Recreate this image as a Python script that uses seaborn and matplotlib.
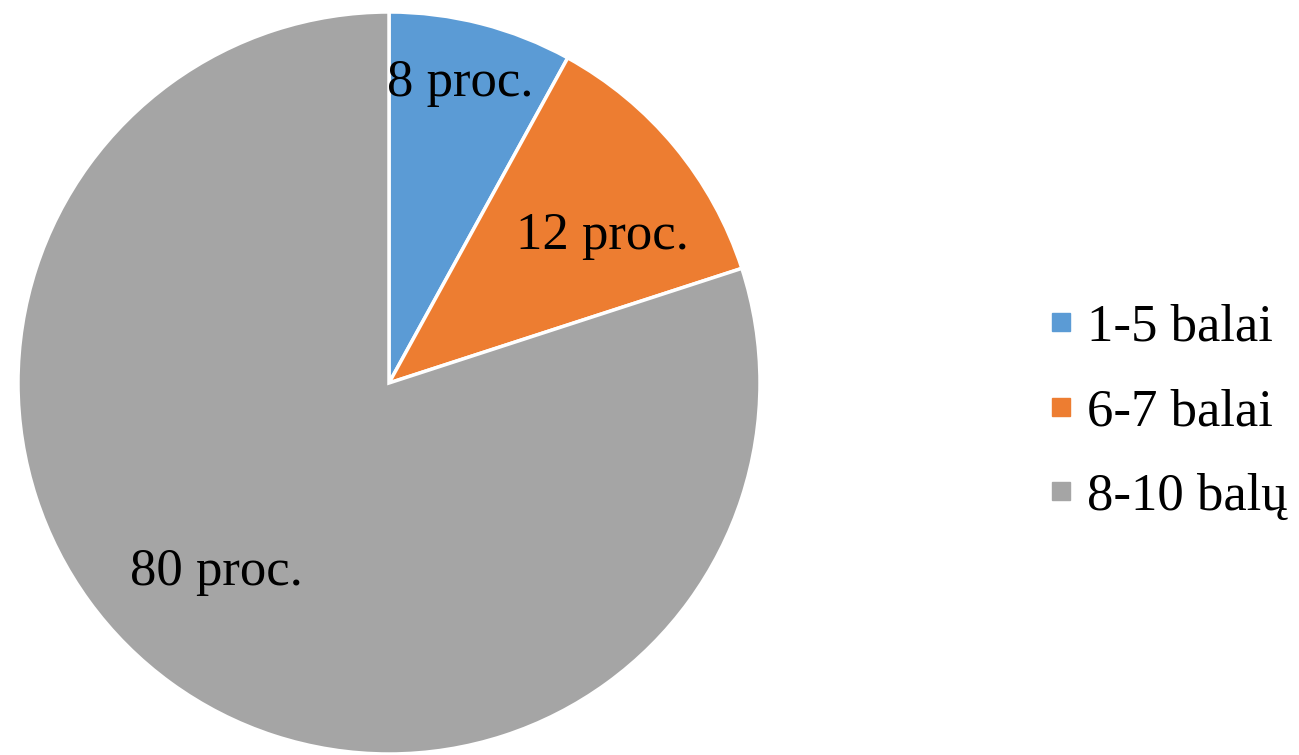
import numpy as np
import matplotlib
matplotlib.use("Agg")
import matplotlib.pyplot as plt
import seaborn as sns

# data
categories = ['1-5 balai', '6-7 balai', '8-10 balų']
shares = [8, 12, 80]
value_labels = ['8 proc.', '12 proc.', '80 proc.']
colors = ['#5B9BD5', '#ED7D31', '#A5A5A5']

sns.set_theme(style='white')
plt.rcParams['font.family'] = ['Liberation Serif', 'DejaVu Serif']
plt.rcParams['text.color'] = 'black'

W, H = 1299, 755
fig = plt.figure(figsize=(W / 100, H / 100), dpi=100)

# pie centre and radius in pixels
cx, cy, R = 389, 755 - 383, 371
ax = fig.add_axes([(cx - R) / W, (cy - R) / H, 2 * R / W, 2 * R / H])

wedges, _ = ax.pie(shares, colors=sns.color_palette(colors), startangle=90,
                   counterclock=False, radius=1.0,
                   wedgeprops=dict(edgecolor='white', linewidth=2.5))
ax.set_xlim(-1, 1)
ax.set_ylim(-1, 1)
ax.set_aspect('equal')
ax.axis('off')

# label placement per slice: fraction of radius, angle shift (deg)
label_dist = [0.83, 0.70, 0.69]
label_shift = [1, -5, -6.5]
for w, txt, d, s in zip(wedges, value_labels, label_dist, label_shift):
    ang = np.deg2rad((w.theta1 + w.theta2) / 2 + s)
    ax.text(d * np.cos(ang), d * np.sin(ang), txt, ha='center', va='center',
            fontsize=38, color='black')

handles = [plt.Line2D([], [], marker='s', linestyle='', markersize=13,
                      markerfacecolor=c, markeredgecolor=c) for c in colors]
leg = fig.legend(handles, categories, loc='center left',
                 bbox_to_anchor=(1045 / W, 1 - 412 / H), frameon=False,
                 fontsize=38, handlelength=0.6, handletextpad=0.2,
                 labelspacing=0.7, borderpad=0, borderaxespad=0)
for t in leg.get_texts():
    t.set_color('black')

fig.savefig('out.png', dpi=100)
